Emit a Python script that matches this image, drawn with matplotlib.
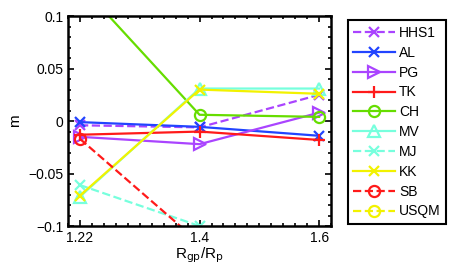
import matplotlib
matplotlib.use("Agg")
import matplotlib.pyplot as plt
import numpy as np
from matplotlib.ticker import MultipleLocator

plt.rcParams["font.family"] = ["Liberation Sans", "DejaVu Sans"]

# x positions are evenly spaced categories
x_labels = ["1.22", "1.4", "1.6"]
x_pos = [1, 2, 3]

# m values per model (nan = not shown)
hhs1 = [-0.004, -0.006, 0.025]
al = [-0.001, -0.0055, -0.014]
pg = [-0.015, -0.022, 0.008]
tk = [-0.013, -0.010, -0.018]
ch = [0.130, 0.006, 0.004]
mv = [-0.072, 0.031, 0.031]
mj = [-0.061, -0.100, np.nan]
kk = [-0.071, 0.030, 0.026]
sb = [-0.017, -0.116, np.nan]
usqm = [np.nan, np.nan, np.nan]

purple = "#aa44ff"
blue = "#2244ff"
red = "#ff1a1a"
green = "#66dd00"
cyan = "#77ffdd"
yellow = "#f2f200"

series = [
    ("HHS1", hhs1, purple, "--", "x", 7),
    ("AL", al, blue, "-", "x", 7),
    ("PG", pg, purple, "-", ">", 9),
    ("TK", tk, red, "-", "+", 9),
    ("CH", ch, green, "-", "o", 8),
    ("MV", mv, cyan, "-", "^", 9),
    ("MJ", mj, cyan, "--", "x", 7),
    ("KK", kk, yellow, "-", "x", 7),
    ("SB", sb, red, "--", "o", 8),
    ("USQM", usqm, yellow, "--", "o", 8),
]

fig = plt.figure(figsize=(4.63, 2.73), dpi=100)
ax = fig.add_axes([0.147, 0.172, 0.568, 0.769])

for name, vals, col, ls, mk, ms in series:
    ax.plot(x_pos, vals, color=col, linestyle=ls, marker=mk, markersize=ms,
            markerfacecolor="none", markeredgewidth=1.6, linewidth=1.6, label=name)

ax.set_xlim(0.9, 3.1)
ax.set_ylim(-0.1, 0.1)
ax.set_xticks(x_pos)
ax.set_xticklabels(x_labels)
ax.set_yticks([-0.1, -0.05, 0, 0.05, 0.1])
ax.set_yticklabels(["\u22120.1", "\u22120.05", "0", "0.05", "0.1"])
ax.xaxis.set_minor_locator(MultipleLocator(0.1))
ax.yaxis.set_minor_locator(MultipleLocator(0.01))
ax.tick_params(which="both", direction="in", top=True, right=True, labelsize=10, width=1.2)
ax.tick_params(which="major", length=4)
ax.tick_params(which="minor", length=2.5)
for sp in ax.spines.values():
    sp.set_linewidth(1.8)

ax.set_xlabel("R$_{\\rm gp}$/R$_{\\rm p}$", fontsize=11, labelpad=0)
ax.set_ylabel("m", fontsize=11, labelpad=4)

leg = fig.legend(loc="upper left", bbox_to_anchor=(0.736, 0.951), fontsize=10,
                 handlelength=3.0, handletextpad=0.3, labelspacing=0.42,
                 borderpad=0.4, fancybox=False, framealpha=1, edgecolor="black")
leg.get_frame().set_linewidth(1.5)

fig.savefig("out.png", dpi=100)
